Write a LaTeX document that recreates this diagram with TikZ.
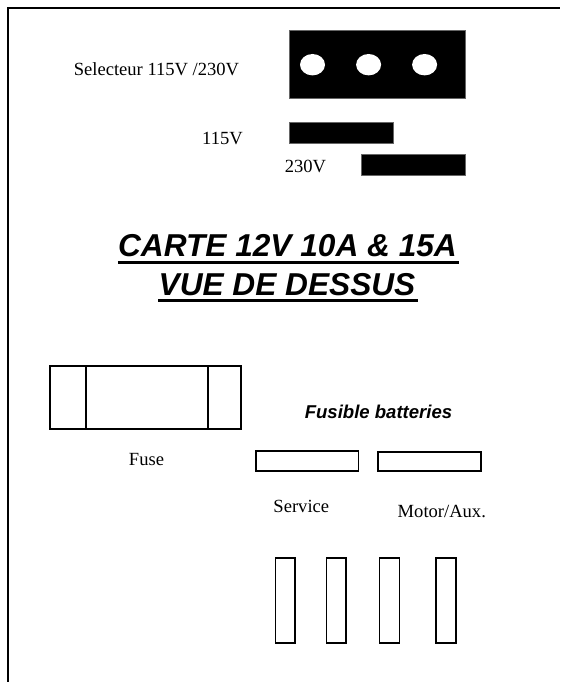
\documentclass[tikz,border=0pt]{standalone}
\usepackage{fontspec}
\setmainfont{Liberation Serif}
\newfontfamily\arialfont{Liberation Sans}
\tikzset{
  outline/.style={line width=1.2pt},
  bar/.style={fill=black,draw=black!60,line width=.3pt},
  label/.style={anchor=base,inner sep=0pt,font=\fontsize{13.2}{13.2}\selectfont},
  heading/.style={anchor=base,inner sep=0pt,font=\arialfont\bfseries\itshape\fontsize{22.5}{22.5}\selectfont},
  subheading/.style={anchor=base,inner sep=0pt,font=\arialfont\bfseries\itshape\fontsize{13.2}{13.2}\selectfont},
  headline/.style={line width=2.1pt}
}
\begin{document}
\begin{tikzpicture}[x=.025cm,y=-.025cm]
\useasboundingbox (0,0) rectangle (560,682);
\draw[outline,line width=1.4pt](8,682)--(8,8)--(560,8);

% selector
\draw[bar](289,30.7) rectangle (465,98.7);
\foreach \x in {312.5,368.6,424.6}
    \fill[white](\x,64.7) ellipse (12.5 and 10.7);
\draw[bar](289,122.7) rectangle (393.5,143.7);
\draw[bar](361.4,154.7) rectangle (465,175.3);
\node[label] (selecteur) at (156.5,76) {Selecteur 115V /230V};
\node[label] (v115) at (222.5,145) {115V};
\node[label] (v230) at (305.5,173) {230V};

% title
\node[heading] (title1) at (287.5,257) {CARTE 12V 10A \& 15A};
\node[heading] (title2) at (287,295) {VUE DE DESSUS};
\draw[headline](title1.base west)++(0,5.5)-- ++(341,0);
\draw[headline](title2.base west)++(0,5.5)-- ++(260,0);

% fuse
\draw[outline](50,366.3) rectangle (240.7,429);
\draw[outline](86,366.3)--(86,429);
\draw[outline](208,366.3)--(208,429);
\node[label] (fuse) at (146.5,465) {Fuse};

% batteries
\node[subheading] (batteries) at (378.5,418.7) {Fusible batteries};
\draw[outline](256,451) rectangle (358.6,470.7);
\draw[outline](378,451.7) rectangle (480.7,471);
\node[label] (service) at (301.3,512.7) {Service};
\node[label] (motor) at (441.8,517) {Motor/Aux.};

\foreach \x in {275.4,326.4,379.6,436}
    \draw[outline](\x,558) rectangle (\x+19.8,642.7);
\end{tikzpicture}
\end{document}
